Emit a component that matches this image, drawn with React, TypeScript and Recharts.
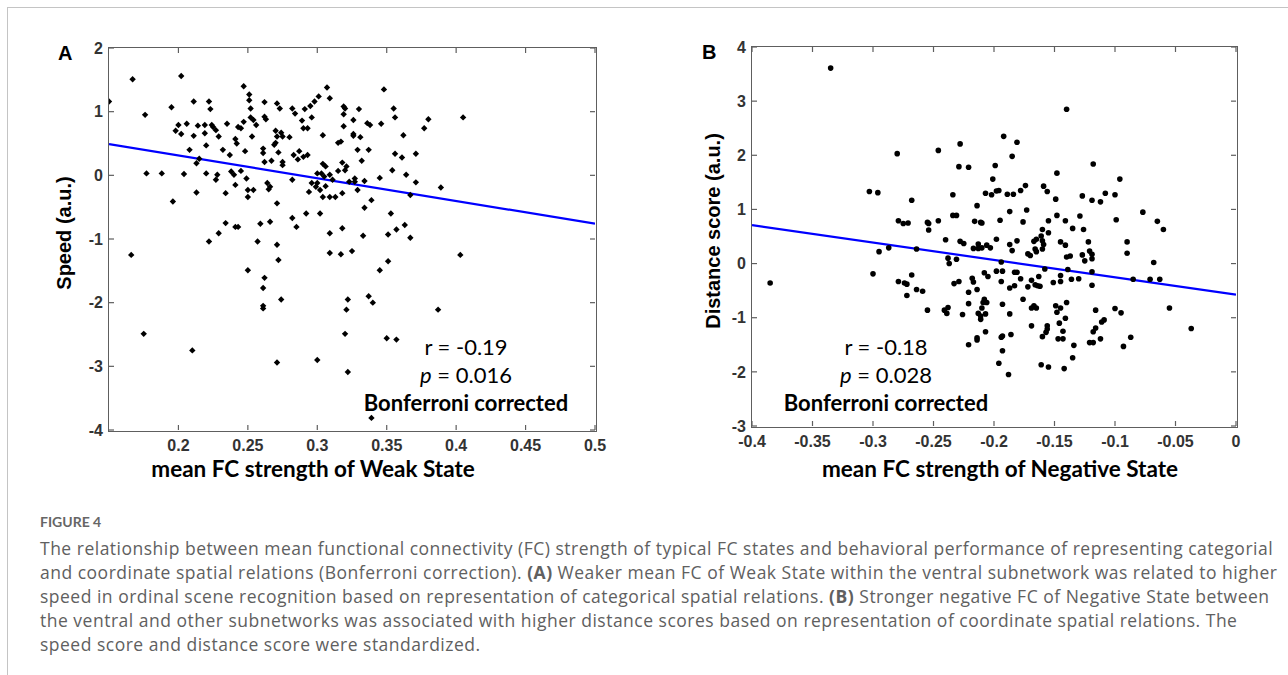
import {
  ReferenceLine,
  Scatter,
  ScatterChart,
  XAxis,
  YAxis,
} from "recharts";

// Panel A: mean FC strength of Weak State vs speed
const weakFc = [
  0.15, 0.167, 0.176, 0.177, 0.188, 0.195, 0.196, 0.198, 0.2, 0.202, 0.202, 0.204, 0.206, 0.208, 0.211, 0.211,
  0.213, 0.213, 0.214, 0.215, 0.219, 0.22, 0.219, 0.222, 0.223, 0.22, 0.224, 0.225, 0.227, 0.227, 0.228, 0.229,
  0.232, 0.234, 0.235, 0.234, 0.237, 0.238, 0.24, 0.241, 0.241, 0.243, 0.241, 0.242, 0.243, 0.245, 0.245, 0.247,
  0.247, 0.248, 0.249, 0.25, 0.25, 0.251, 0.251, 0.254, 0.252, 0.252, 0.253, 0.254, 0.256, 0.259, 0.261, 0.261,
  0.262, 0.262, 0.262, 0.263, 0.264, 0.265, 0.266, 0.266, 0.267, 0.269, 0.27, 0.27, 0.271, 0.271, 0.271, 0.272,
  0.273, 0.274, 0.275, 0.275, 0.275, 0.28, 0.282, 0.282, 0.282, 0.283, 0.284, 0.285, 0.286, 0.287, 0.289, 0.29,
  0.29, 0.291, 0.292, 0.293, 0.293, 0.294, 0.295, 0.296, 0.296, 0.298, 0.299, 0.3, 0.3, 0.301, 0.302, 0.302,
  0.303, 0.304, 0.304, 0.304, 0.306, 0.307, 0.309, 0.309, 0.305, 0.306, 0.309, 0.311, 0.313, 0.319, 0.32, 0.319,
  0.319, 0.315, 0.317, 0.318, 0.321, 0.32, 0.315, 0.318, 0.318, 0.323, 0.326, 0.326, 0.326, 0.33, 0.329, 0.327,
  0.327, 0.329, 0.331, 0.332, 0.334, 0.334, 0.336, 0.337, 0.338, 0.339, 0.345, 0.346, 0.348, 0.353, 0.354, 0.355,
  0.356, 0.356, 0.357, 0.361, 0.362, 0.363, 0.364, 0.367, 0.371, 0.371, 0.377, 0.38, 0.389, 0.405,
  0.166, 0.175, 0.21, 0.222, 0.229, 0.25, 0.257, 0.262, 0.261, 0.261, 0.261, 0.271, 0.272, 0.274, 0.271, 0.3,
  0.309, 0.309, 0.317, 0.325, 0.333, 0.351, 0.367, 0.345, 0.351, 0.322, 0.321, 0.337, 0.34, 0.32, 0.35, 0.357,
  0.322, 0.339, 0.387, 0.403,
];
const speed = [
  1.16, 1.51, 0.95, 0.03, 0.03, 1.07, -0.41, 0.7, 0.79, 1.56, 0.65, 0.02, 0.81, 0.4, 1.16, 0.62,
  -0.27, 0.19, 0.78, 0.26, 0.66, 0.47, 0.79, 1.16, 1.04, 0.03, 0.79, 0.76, 0.71, -0.07, 0.01, 0.61,
  0.4, -0.28, 0.81, -0.75, 0.32, 0.06, 0.01, -0.15, -0.81, -0.81, 0.57, 0.5, 0.76, 0.74, 0.07, 1.4,
  0.84, 0.38, -0.05, -0.34, -0.23, 1.18, 1.27, -0.23, 1.05, 0.91, 0.61, 0.87, 0.79, -0.76, 0.42, 0.35,
  0.92, 1.15, 0.21, 0.88, -0.12, -0.22, -0.18, -0.73, 0.23, 0.48, 0.51, 0.7, -0.44, 1.13, 0.61, 0.36,
  1.05, 0.67, 0.61, 0.16, 0.21, 0.6, -0.67, 1.05, -0.07, 0.32, 0.97, -0.81, 0.25, 0.38, 0.86, 0.74,
  0.29, 1.04, -0.6, 0.32, 0.74, -0.26, 1.09, -0.12, 0.91, 1.16, -0.18, -0.12, 0.03, 1.24, -0.23, -0.6,
  0.03, 0.63, -0.34, 0.18, -0.17, 1.38, 1.21, -0.34, -0.02, 0.14, 0.01, -0.07, -0.34, 1.08, 1.05, 0.96,
  0.77, 0.51, 0.53, 0.2, 0.14, 0.08, 0.07, -0.28, -0.83, -0.1, 0.87, 0.65, 0.62, 1.04, 0.4, -0.05,
  -0.1, -0.23, 0.6, 0.23, -0.09, -0.51, 0.82, 0.4, 0.79, -0.39, -0.04, 0.81, 1.35, -0.6, 0.08, 1.05,
  0.34, 0.91, -0.85, 0.28, 0.63, -0.78, 0.01, -0.31, -0.11, 0.34, 0.74, 0.88, -0.19, 0.91,
  -1.25, -2.49, -2.75, -1.04, -0.91, -1.49, -1.04, -1.61, -1.77, -2.05, -2.09, -1.09, -1.33, -1.95, -2.94, -2.9,
  -0.91, -1.22, -1.24, -1.19, -0.95, -0.93, -0.98, -1.49, -1.35, -1.95, -2.11, -1.9, -2.0, -2.49, -2.56, -2.58,
  -3.09, -3.81, -2.11, -1.25,
];
const fitAX = [0.15, 0.5];
const fitAY = [0.49, -0.76];
const ticksAX = [0.2, 0.25, 0.3, 0.35, 0.4, 0.45, 0.5];
const ticksAY = [-4, -3, -2, -1, 0, 1, 2];

// Panel B: mean FC strength of Negative State vs distance score
const negFc = [
  -0.335, -0.28, -0.303, -0.296, -0.268, -0.279, -0.275, -0.271, -0.255, -0.254, -0.246, -0.234, -0.234, -0.231, -0.229, -0.228,
  -0.246, -0.221, -0.192, -0.181, -0.185, -0.199, -0.201, -0.207, -0.202, -0.198, -0.196, -0.189, -0.184, -0.178, -0.174, -0.187,
  -0.173, -0.195, -0.176, -0.214, -0.216, -0.211, -0.159, -0.156, -0.148, -0.149, -0.148, -0.155, -0.141, -0.14, -0.16, -0.135,
  -0.127, -0.129, -0.126, -0.119, -0.118, -0.112, -0.108, -0.1, -0.096, -0.099, -0.077, -0.065, -0.06,
  -0.385, -0.295, -0.287, -0.3, -0.279, -0.274, -0.272, -0.272, -0.268, -0.264, -0.259, -0.264, -0.255, -0.254, -0.241, -0.239,
  -0.238, -0.24, -0.238, -0.237, -0.231, -0.233, -0.229, -0.228, -0.225, -0.226, -0.221, -0.221, -0.221,
  -0.21, -0.155, -0.213, -0.198, -0.217, -0.213, -0.21, -0.206, -0.203, -0.187, -0.185, -0.181, -0.167, -0.165, -0.161, -0.16,
  -0.166, -0.165, -0.172, -0.17, -0.16, -0.159, -0.145, -0.141, -0.14, -0.137, -0.127, -0.122, -0.121, -0.119, -0.119, -0.125,
  -0.09, -0.09, -0.068, -0.194, -0.198, -0.193, -0.183, -0.181, -0.208, -0.205, -0.218, -0.217, -0.194, -0.187, -0.183, -0.178,
  -0.172, -0.169, -0.166, -0.164, -0.162, -0.163, -0.158, -0.151, -0.145, -0.145, -0.139, -0.136, -0.13, -0.119, -0.119, -0.085,
  -0.071, -0.063, -0.214, -0.213, -0.21, -0.208, -0.209, -0.206, -0.211, -0.211, -0.207, -0.193, -0.187, -0.176, -0.169, -0.167,
  -0.165, -0.169, -0.156, -0.156, -0.157, -0.16, -0.149, -0.148, -0.145, -0.14, -0.146, -0.143, -0.141, -0.147, -0.143, -0.134,
  -0.116, -0.118, -0.116, -0.111, -0.109, -0.121, -0.118, -0.112, -0.1, -0.095, -0.087, -0.093, -0.055, -0.037, -0.214, -0.214,
  -0.193, -0.194, -0.207, -0.186, -0.193, -0.196, -0.188, -0.161, -0.155, -0.142, -0.135,
];
const distance = [
  3.61, 2.03, 1.33, 1.31, 1.17, 0.79, 0.74, 0.75, 0.76, 0.74, 0.79, 1.27, 0.89, 0.89, 1.79, 2.21,
  2.09, 1.78, 2.35, 2.24, 1.98, 1.81, 1.56, 1.3, 1.27, 1.34, 1.35, 1.28, 1.28, 1.35, 1.44, 0.96,
  0.99, 0.8, 0.77, 1.07, 0.78, 0.76, 1.43, 1.33, 1.67, 1.19, 0.89, 0.79, 0.79, 2.85, 0.63, 0.65,
  1.25, 0.88, 0.63, 1.17, 1.84, 1.14, 1.3, 1.27, 1.56, 0.81, 0.95, 0.78, 0.63,
  -0.36, 0.22, 0.29, -0.19, -0.33, -0.36, -0.38, -0.59, -0.21, -0.48, -0.51, 0.27, -0.86, 0.62, -0.86, -0.92,
  -0.81, 0.44, 0.1, 0.0, 0.08, -0.37, -0.33, 0.41, 0.37, -0.94, -0.53, -0.74, -1.5,
  0.75, 0.57, 0.36, 0.45, 0.28, 0.28, 0.29, 0.34, 0.29, 0.35, 0.24, 0.42, 0.41, 0.45, 0.51, 0.42,
  0.27, 0.22, 0.18, 0.15, 0.27, 0.35, 0.4, 0.34, 0.12, 0.14, 0.16, 0.4, 0.23, 0.17, 0.09, 0.05,
  0.4, 0.19, 0.02, 0.03, -0.14, -0.14, -0.16, -0.16, -0.17, -0.24, -0.27, -0.34, -0.33, -0.45, -0.41, -0.28,
  -0.43, -0.31, -0.39, -0.41, -0.42, -0.24, -0.1, -0.35, -0.22, -0.33, -0.11, -0.29, -0.28, -0.15, -0.4, -0.29,
  -0.29, -0.29, -0.48, -0.92, -0.82, -0.66, -0.72, -0.72, -0.97, -1.03, -0.93, -0.75, -0.93, -0.66, -0.82, -0.78,
  -0.82, -1.15, -1.15, -1.21, -1.27, -1.35, -0.78, -0.9, -0.82, -0.72, -1.1, -1.25, -1.01, -1.39, -1.39, -1.51,
  -0.86, -1.26, -1.19, -1.08, -1.04, -1.46, -1.46, -1.39, -0.83, -0.91, -1.36, -1.53, -0.82, -1.2, -1.37, -1.41,
  -1.34, -1.36, -1.26, -1.31, -1.61, -1.84, -2.05, -1.87, -1.91, -1.94, -1.74,
];
const fitBX = [-0.4, 0];
const fitBY = [0.71, -0.575];
const ticksBX = [-0.4, -0.35, -0.3, -0.25, -0.2, -0.15, -0.1, -0.05, 0];
const ticksBY = [-3, -2, -1, 0, 1, 2, 3, 4];

const captionLines = [
  "The relationship between mean functional connectivity (FC) strength of typical FC states and behavioral performance of representing categorial",
  "and coordinate spatial relations (Bonferroni correction). |(A)| Weaker mean FC of Weak State within the ventral subnetwork was related to higher",
  "speed in ordinal scene recognition based on representation of categorical spatial relations. |(B)| Stronger negative FC of Negative State between",
  "the ventral and other subnetworks was associated with higher distance scores based on representation of coordinate spatial relations. The",
  "speed score and distance score were standardized.",
];

const zip = (xs: number[], ys: number[]) => xs.map((x, i) => ({ x, y: ys[i] }));

const AXIS = "#5e5e5e";
const TICK_PX = 5;
const CHART_H = 500;
const tickStyle = {
  fill: "#333",
  fontSize: 16,
  fontWeight: 700,
  fontFamily: "'Liberation Sans', Arial, sans-serif",
};
const calibri = "Lato, 'Open Sans', sans-serif";

const Diamond = (props: any) => {
  const { cx, cy } = props;
  const r = 3.2;
  return (
    <path
      d={`M${cx},${cy - r}L${cx + r},${cy}L${cx},${cy + r}L${cx - r},${cy}Z`}
      fill="#000"
    />
  );
};

const Dot = (props: any) => <circle cx={props.cx} cy={props.cy} r={2.8} fill="#000" />;

type Margin = { top: number; right: number; bottom: number; left: number };

interface PanelProps {
  data: { x: number; y: number }[];
  fit: { x: number; y: number }[];
  xDomain: [number, number];
  yDomain: [number, number];
  xTicks: number[];
  yTicks: number[];
  left: number;
  width: number;
  margin: Margin;
  shape: (p: any) => JSX.Element;
}

const Panel = ({ data, fit, xDomain, yDomain, xTicks, yTicks, left, width, margin, shape }: PanelProps) => {
  const plotL = margin.left + 60;
  const plotT = margin.top;
  const plotW = width - plotL - margin.right;
  const plotH = CHART_H - margin.top - margin.bottom - 30;
  const [x0, x1] = xDomain;
  const [y0, y1] = yDomain;
  // inward tick length, in data units
  const dy = ((y1 - y0) * TICK_PX) / plotH;
  const dx = ((x1 - x0) * TICK_PX) / plotW;
  const tk = { stroke: AXIS, strokeWidth: 1.2, ifOverflow: "visible" as const };
  return (
    <div style={{ position: "absolute", left, top: 0, width, height: CHART_H }}>
      <ScatterChart width={width} height={CHART_H} margin={margin}>
        <XAxis
          type="number"
          dataKey="x"
          domain={xDomain}
          ticks={xTicks}
          interval={0}
          allowDataOverflow
          height={30}
          tickSize={0}
          tickMargin={10}
          tick={tickStyle}
          axisLine={false}
        />
        <YAxis
          type="number"
          dataKey="y"
          domain={yDomain}
          ticks={yTicks}
          interval={0}
          allowDataOverflow
          width={60}
          tickSize={0}
          tickMargin={6}
          tick={tickStyle}
          axisLine={false}
        />
        {xTicks.map((t) => (
          <ReferenceLine key={`tb${t}`} segment={[{ x: t, y: y0 }, { x: t, y: y0 + dy }]} {...tk} />
        ))}
        {xTicks.map((t) => (
          <ReferenceLine key={`tt${t}`} segment={[{ x: t, y: y1 }, { x: t, y: y1 - dy }]} {...tk} />
        ))}
        {yTicks.map((t) => (
          <ReferenceLine key={`tl${t}`} segment={[{ x: x0, y: t }, { x: x0 + dx, y: t }]} {...tk} />
        ))}
        {yTicks.map((t) => (
          <ReferenceLine key={`tr${t}`} segment={[{ x: x1, y: t }, { x: x1 - dx, y: t }]} {...tk} />
        ))}
        <Scatter data={data} shape={shape} isAnimationActive={false} />
        <ReferenceLine segment={fit} stroke="#0000ff" strokeWidth={2.2} ifOverflow="hidden" />
      </ScatterChart>
      {/* plot frame */}
      <div
        style={{
          position: "absolute",
          left: plotL - 1,
          top: plotT - 1,
          width: plotW + 1,
          height: plotH + 1,
          border: `1px solid ${AXIS}`,
          pointerEvents: "none",
        }}
      />
    </div>
  );
};

const abs = (left: number, top: number, extra: any = {}) => ({
  position: "absolute" as const,
  left,
  top,
  whiteSpace: "nowrap" as const,
  ...extra,
});

const statStyle = (top: number, cx: number, bold = false) =>
  abs(cx - 150, top, {
    width: 300,
    textAlign: "center",
    fontFamily: calibri,
    fontSize: 22,
    fontWeight: bold ? 700 : 400,
    lineHeight: "28px",
    color: "#000",
  });

const StatText = ({ cx, r, p }: { cx: number; r: string; p: string }) => (
  <>
    <div style={statStyle(333, cx)}>r = {r}</div>
    <div style={statStyle(361, cx)}>
      <i>p</i> = {p}
    </div>
    <div style={statStyle(389, cx, true)}>Bonferroni corrected</div>
  </>
);

const YTitle = ({ cx, cy, text }: { cx: number; cy: number; text: string }) => (
  <div
    style={abs(cx - 150, cy - 12, {
      width: 300,
      height: 24,
      lineHeight: "24px",
      textAlign: "center",
      transform: "rotate(-90deg)",
      fontFamily: "'Liberation Sans', Arial, sans-serif",
      fontWeight: 700,
      fontSize: 20,
      color: "#000",
    })}
  >
    {text}
  </div>
);

const XTitle = ({ cx, text }: { cx: number; text: string }) => (
  <div style={abs(cx - 250, 455, { width: 500, textAlign: "center", fontFamily: calibri, fontWeight: 700, fontSize: 22.5, lineHeight: "28px", color: "#000" })}>
    {text}
  </div>
);

export default function App() {
  const dataA = zip(weakFc, speed);
  const dataB = zip(negFc, distance);
  return (
    <div style={{ position: "absolute", left: 0, top: 0, width: 1288, height: 675, background: "#fff", overflow: "hidden" }}>
      <div style={{ position: "absolute", left: 7, top: 7, width: 1300, height: 700, borderTop: "1px solid #c4c4c4", borderLeft: "1px solid #c4c4c4" }} />

      <Panel
        data={dataA}
        fit={zip(fitAX, fitAY)}
        xDomain={[0.15, 0.5]}
        yDomain={[-4, 2]}
        xTicks={ticksAX}
        yTicks={ticksAY}
        left={0}
        width={640}
        margin={{ top: 48, right: 45, bottom: 40, left: 49 }}
        shape={Diamond}
      />
      <Panel
        data={dataB}
        fit={zip(fitBX, fitBY)}
        xDomain={[-0.4, 0]}
        yDomain={[-3, 4]}
        xTicks={ticksBX}
        yTicks={ticksBY}
        left={640}
        width={648}
        margin={{ top: 47, right: 52, bottom: 44, left: 52 }}
        shape={Dot}
      />

      <div style={abs(58, 41, { fontFamily: "'Liberation Sans', Arial, sans-serif", fontWeight: 700, fontSize: 20, lineHeight: "24px" })}>A</div>
      <div style={abs(702, 40, { fontFamily: "'Liberation Sans', Arial, sans-serif", fontWeight: 700, fontSize: 20, lineHeight: "24px" })}>B</div>

      <YTitle cx={64} cy={233} text="Speed (a.u.)" />
      <YTitle cx={713} cy={231} text="Distance score (a.u.)" />
      <XTitle cx={313} text="mean FC strength of Weak State" />
      <XTitle cx={1000} text="mean FC strength of Negative State" />

      <StatText cx={466} r="-0.19" p="0.016" />
      <StatText cx={886} r="-0.18" p="0.028" />

      <div style={abs(40, 513, { fontFamily: calibri, fontWeight: 700, fontSize: 14, lineHeight: "18px", color: "#666" })}>FIGURE 4</div>
      {captionLines.map((line, i) => (
        <div
          key={i}
          style={abs(40, 536 + i * 24, { fontFamily: "'Open Sans', Lato, sans-serif", fontSize: 17.5, letterSpacing: 0.5, lineHeight: "24px", color: "#606060" })}
        >
          {line.split("|").map((part, j) =>
            j % 2 === 1 ? <b key={j}>{part}</b> : <span key={j}>{part}</span>
          )}
        </div>
      ))}
    </div>
  );
}
